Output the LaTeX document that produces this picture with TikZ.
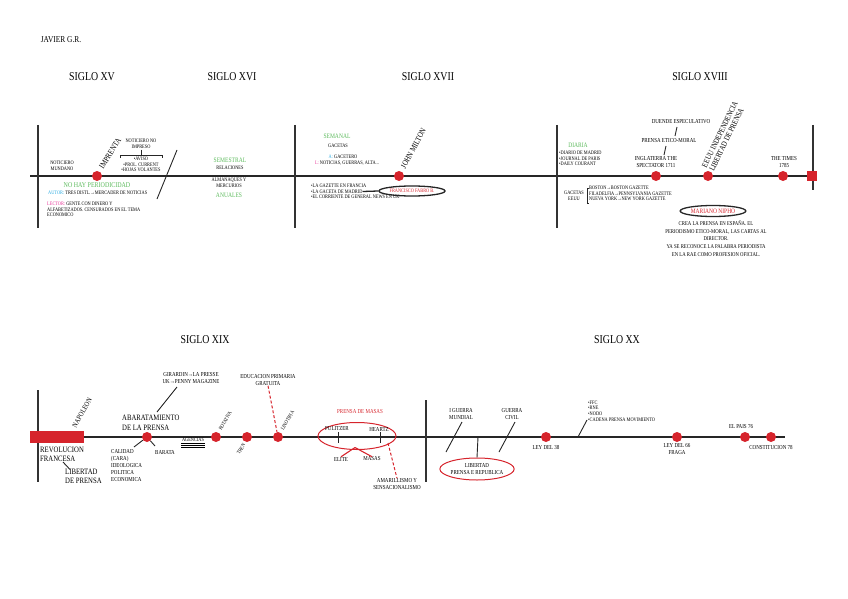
\documentclass[tikz,border=0pt]{standalone}
\usepackage{fontspec}
\setmainfont{Liberation Serif}[FakeStretch=0.82]
\usetikzlibrary{shapes.geometric}
\definecolor{dred}{RGB}{214,36,44}
\definecolor{lgreen}{RGB}{90,185,90}
\definecolor{lcyan}{RGB}{40,170,225}
\definecolor{lmag}{RGB}{230,50,150}
\begin{document}
\begin{tikzpicture}[x=1pt,y=-1pt,
  axis/.style={line width=1.3pt, black!85},
  sepline/.style={line width=1.2pt, black!80},
  conn/.style={line width=0.9pt, black!85},
  reddot/.style={circle, fill=dred, inner sep=0pt, minimum size=10pt},
  sm/.style={font=\fontsize{5.3}{5.6}\selectfont, inner sep=0pt, align=center},
  md/.style={font=\fontsize{6.1}{7}\selectfont, inner sep=0pt, align=center},
  lg/.style={font=\fontsize{8.2}{9.5}\selectfont, inner sep=0pt, align=center},
  grn/.style={font=\fontsize{6.8}{7}\selectfont, inner sep=0pt, text=lgreen},
  siglo/.style={font=\fontsize{12}{13}\selectfont, inner sep=0pt},
  redell/.style={ellipse, draw=dred, line width=1pt, inner sep=0pt},
  blkell/.style={ellipse, draw=black!85, line width=1.3pt, inner sep=1pt, text=dred},
  reddash/.style={dashed, dash pattern=on 3pt off 2pt, line width=1pt, dred}]
\useasboundingbox (0,0) rectangle (848,599);

% ---------- titles ----------
\node[font=\fontsize{9}{10}\selectfont, inner sep=0pt] (autor) at (61,40) {JAVIER G.R.};
\node[siglo] (s15) at (92,77) {SIGLO XV};
\node[siglo] (s16) at (232,77) {SIGLO XVI};
\node[siglo] (s17) at (428,77) {SIGLO XVII};
\node[siglo] (s18) at (700,77) {SIGLO XVIII};
\node[siglo] (s19) at (205,340) {SIGLO XIX};
\node[siglo] (s20) at (617,340) {SIGLO XX};

% ---------- upper timeline ----------
\coordinate (t1s) at (30,176);
\coordinate (t1e) at (812,176);
\draw[axis] (t1s) -- (t1e);
\coordinate (v1a) at (38,125);  \coordinate (v1b) at (38,228);
\coordinate (v2a) at (295,125); \coordinate (v2b) at (295,228);
\coordinate (v3a) at (557,125); \coordinate (v3b) at (557,228);
\coordinate (v4a) at (813,125); \coordinate (v4b) at (813,190);
\draw[sepline] (v1a) -- (v1b);
\draw[sepline] (v2a) -- (v2b);
\draw[sepline] (v3a) -- (v3b);
\draw[sepline] (v4a) -- (v4b);
\node[fill=dred, minimum size=10pt, inner sep=0pt] (endsq) at (812,176) {};

% ---------- XV ----------
\node[reddot] (imp) at (97,176) {};
\node[lg, rotate=58, anchor=west] (impt) at (101,168) {IMPRENTA};
\node[sm] (mund) at (62,166) {NOTICIERO\\MUNDANO};
\node[sm] (noimp) at (141,143.5) {NOTICIERO NO\\IMPRESO};
\coordinate (brl) at (120,158); \coordinate (brl2) at (120,155);
\coordinate (brr) at (162,158); \coordinate (brr2) at (162,155);
\coordinate (brm) at (141,149.5); \coordinate (brm2) at (141,155);
\draw[conn] (brl) -- (brl2) -- (brr2) -- (brr);
\draw[conn] (brm) -- (brm2);
\node[sm] (avisos) at (141,164.5) {•AVISO\\•PROL. CURRENT\\•HOJAS VOLANTES};
\node[font=\fontsize{7.3}{8}\selectfont, inner sep=0pt, text=lgreen] (nohay) at (97,185) {NO HAY PERIODICIDAD};
\node[sm, anchor=west] (autxv) at (48,193) {\textcolor{lcyan}{AUTOR:} TRES DISTL.→MERCADER DE NOTICIAS};
\node[sm, anchor=north west, align=left] (lecxv) at (47,202) {\textcolor{lmag}{LECTOR:} GENTE CON DINERO Y\\ALFABETIZADOS. CENSURADOS EN EL TEMA\\ECONOMICO};
\coordinate (d1a) at (177,150); \coordinate (d1b) at (157,199);
\draw[conn] (d1a) -- (d1b);

% ---------- XVI ----------
\node[grn] (sem) at (230,160) {SEMESTRAL};
\node[sm] (rel) at (230,168) {RELACIONES};
\node[sm] (alm) at (229,183) {ALMANAQUES Y\\MERCURIOS};
\node[grn] (anu) at (229,195) {ANUALES};

% ---------- XVII ----------
\node[grn] (semanal) at (337,136) {SEMANAL};
\node[sm] (gac) at (338,146) {GACETAS};
\node[sm] (gact) at (343,157) {\textcolor{lcyan}{A:} GACETERO};
\node[sm] (notg) at (347,163) {\textcolor{lmag}{L:} NOTICIAS, GUERRAS, ALTA...};
\node[reddot] (milton) at (399,176) {};
\node[lg, rotate=62, anchor=west] (miltont) at (403,168) {JOHN MILTON};
\node[sm, anchor=west] (b1) at (311,186) {•LA GAZETTE EN FRANCIA};
\node[sm, anchor=west] (b2) at (311,191.5) {•LA GACETA DE MADRID};
\node[sm, anchor=west] (b3) at (311,197) {•EL CORRIENTE DE GENERAL NEWS EN UK};
\node[blkell, font=\fontsize{5.3}{5.5}\selectfont, minimum width=52pt, minimum height=10pt] (fabro) at (412,191) {FRANCISCO FABRO B.};
\draw[line width=1.3pt, black!85] (b2.east) -- (fabro.west);

% ---------- XVIII ----------
\node[grn] (diaria) at (578,145) {DIARIA};
\node[sm, anchor=north west, align=left] (dbul) at (559,151) {•DIARIO DE MADRID\\•JOURNAL DE PARIS\\•DAILY COURANT};
\node[reddot] (ingl) at (656,176) {};
\node[reddot] (eeuu) at (708,176) {};
\node[reddot] (times) at (783,176) {};
\node[md] (inglt) at (656,162) {INGLATERRA THE\\SPECTATOR 1711};
\node[md] (etico) at (669,141) {PRENSA ETICO-MORAL};
\node[md] (duende) at (681,122) {DUENDE ESPECULATIVO};
\coordinate (c1a) at (664,155); \coordinate (c1b) at (666,146);
\coordinate (c2a) at (675,136); \coordinate (c2b) at (677,127);
\draw[conn] (c1a) -- (c1b);
\draw[conn] (c2a) -- (c2b);
\node[font=\fontsize{8}{8.2}\selectfont, inner sep=0pt, align=left, rotate=64, anchor=south west] (eeuut) at (714,172) {EEUU INDEPENDENCIA\\LIBERTAD DE PRENSA};
\node[md] (timest) at (784,162) {THE TIMES\\1785};
\node[sm] (gacee) at (574,195.5) {GACETAS\\EEUU};
\coordinate (gb1) at (589,188); \coordinate (gb2) at (587,188);
\coordinate (gb3) at (587,203); \coordinate (gb4) at (589,203);
\draw[conn] (gb1) -- (gb2) -- (gb3) -- (gb4);
\node[sm, anchor=north west, align=left] (gacl) at (589,186) {BOSTON→BOSTON GAZETTE\\FILADELFIA→PENNSYLVANIA GAZETTE\\NUEVA YORK→NEW YORK GAZETTE};
\node[blkell, font=\fontsize{6.7}{7}\selectfont, minimum width=53pt, minimum height=11pt] (nipho) at (713,211) {MARIANO NIPHO};
\node[font=\fontsize{5.8}{7.6}\selectfont, inner sep=0pt, align=center] (niphot) at (716,238.5) {CREA LA PRENSA EN ESPAÑA. EL\\PERIODISMO ETICO-MORAL, LAS CARTAS AL\\DIRECTOR.\\YA SE RECONOCE LA PALABRA PERIODISTA\\EN LA RAE COMO PROFESION OFICIAL.};

% ---------- lower timeline ----------
\coordinate (t2s) at (30,437);
\coordinate (t2e) at (785,437);
\draw[axis] (t2s) -- (t2e);
\coordinate (w1a) at (38,390);  \coordinate (w1b) at (38,482);
\coordinate (w2a) at (426,400); \coordinate (w2b) at (426,482);
\draw[sepline] (w1a) -- (w1b);
\draw[sepline] (w2a) -- (w2b);

% ---------- XIX ----------
\node[fill=dred, minimum width=54pt, minimum height=12pt, inner sep=0pt] (revrect) at (57,437) {};
\node[font=\fontsize{7.3}{8}\selectfont, inner sep=0pt, rotate=60, anchor=west] (nap) at (74,427) {NAPOLEON};
\node[lg, align=left, anchor=west] (revf) at (40,454.5) {REVOLUCION\\FRANCESA};
\node[lg, align=left, anchor=west] (libp) at (65,476.5) {LIBERTAD\\DE PRENSA};
\coordinate (rl1) at (63,462); \coordinate (rl2) at (70,469.5);
\draw[conn] (rl1) -- (rl2);
\node[lg, align=left, anchor=west] (abt) at (122,423) {ABARATAMIENTO\\DE LA PRENSA};
\node[reddot] (abar) at (147,437) {};
\node[md] (gir) at (191,378) {GIRARDIN→LA PRESSE\\UK→PENNY MAGAZINE};
\coordinate (g1) at (157,412); \coordinate (g2) at (177,387);
\draw[conn] (g1) -- (g2);
\node[md, align=left, anchor=north west] (cal) at (111,449.5) {CALIDAD\\(CARA)\\IDEOLOGICA\\POLITICA\\ECONOMICA};
\node[md] (bar) at (165,452) {BARATA};
\coordinate (ab1) at (134,447); \coordinate (ab2) at (155,446);
\draw[conn] (abar) -- (ab1);
\draw[conn] (abar) -- (ab2);
\node[sm] (agen) at (193,440) {AGENCIAS};
\coordinate (u1a) at (181,443.5); \coordinate (u1b) at (205,443.5);
\coordinate (u2a) at (181,445.3); \coordinate (u2b) at (205,445.3);
\coordinate (u3a) at (181,447.1); \coordinate (u3b) at (205,447.1);
\draw[line width=0.4pt] (u1a) -- (u1b);
\draw[line width=0.8pt] (u2a) -- (u2b);
\draw[line width=0.8pt] (u3a) -- (u3b);
\node[reddot] (rot) at (216,437) {};
\node[reddot] (tren) at (247,437) {};
\node[reddot] (lino) at (278,437) {};
\node[sm, rotate=60, anchor=west] (rott) at (220,430) {ROTATIVA};
\node[sm, rotate=60, anchor=east] (trent) at (244,444) {TREN};
\node[sm, rotate=60, anchor=west] (linot) at (282,430) {LINOTIPIA};
\node[md] (edu) at (268,380) {EDUCACION PRIMARIA\\GRATUITA};
\draw[reddash] (edu.south) -- (lino);
\node[md, text=dred] (pmas) at (360,412) {PRENSA DE MASAS};
\node[redell, minimum width=78pt, minimum height=27pt] (pell) at (357,436) {};
\node[md] (pul) at (337,429) {PULITZER};
\node[md] (hea) at (379,429) {HEARTZ};
\coordinate (tk1a) at (338,432); \coordinate (tk1b) at (338,443);
\coordinate (tk2a) at (380,432); \coordinate (tk2b) at (380,443);
\draw[conn] (tk1a) -- (tk1b);
\draw[conn] (tk2a) -- (tk2b);
\node[md] (elite) at (341,459) {ELITE};
\node[md] (masas) at (372,459) {MASAS};
\coordinate (split) at (355,447.5);
\draw[line width=1.1pt, dred] (split) -- (elite.north);
\draw[line width=1.1pt, dred] (split) -- (masas.north);
\node[md] (amar) at (397,484) {AMARILLISMO Y\\SENSACIONALISMO};
\coordinate (am0) at (388,443);
\draw[reddash] (am0) -- (amar.north);

% ---------- XX ----------
\node[md] (gm) at (461,414) {I GUERRA\\MUNDIAL};
\coordinate (gm1) at (462,422); \coordinate (gm2) at (446,452);
\draw[conn] (gm1) -- (gm2);
\node[md] (gc) at (512,414) {GUERRA\\CIVIL};
\coordinate (gc1) at (515,422); \coordinate (gc2) at (499,452);
\draw[conn] (gc1) -- (gc2);
\node[redell, md, minimum width=64pt, minimum height=22pt] (rep) at (477,469) {LIBERTAD\\PRENSA E REPUBLICA};
\coordinate (rep0) at (478,437);
\draw[conn] (rep0) -- (rep.north);
\node[reddot] (ley38) at (546,437) {};
\node[md] (ley38t) at (546,447) {LEY DEL 38};
\coordinate (f0) at (578,437); \coordinate (f1) at (587,420);
\draw[conn] (f0) -- (f1);
\node[sm, anchor=north west, align=left] (ffc) at (588,400.5) {•FFC\\•RNE\\•NODO\\•CADENA PRENSA MOVIMIENTO};
\node[reddot] (ley66) at (677,437) {};
\node[md] (ley66t) at (677,449.5) {LEY DEL 66\\FRAGA};
\node[reddot] (pais) at (745,437) {};
\node[md] (paist) at (741,427) {EL PAIS 76};
\node[reddot] (const) at (771,437) {};
\node[md] (constt) at (771,447) {CONSTITUCION 78};
\end{tikzpicture}
\end{document}
